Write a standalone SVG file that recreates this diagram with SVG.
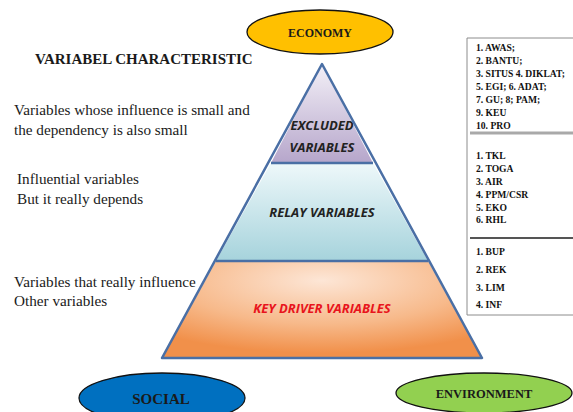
<svg xmlns="http://www.w3.org/2000/svg" width="573" height="412" viewBox="0 0 573 412">
  <style>
    .serif { font-family: "Liberation Serif", "Times New Roman", serif; fill: #1a1a1a; }
    .note { font-size: 15.2px; }
    .list { font-size: 9.6px; font-weight: bold; fill: #111; }
    .tier { font-family: "Open Sans", "Liberation Sans", sans-serif; font-size: 13px; font-weight: bold; font-style: italic; text-anchor: middle; fill: #222; }
    .oval { stroke: #111; stroke-width: 1.3; }
    .ovaltext { font-family: "Liberation Serif", serif; font-weight: bold; text-anchor: middle; fill: #1a1a1a; }
    .tierline { stroke: #4a6fa5; stroke-width: 2.5; fill: none; stroke-linejoin: round; }
  </style>
  <defs>
    <linearGradient id="gTop" x1="0" y1="0" x2="0" y2="1">
      <stop offset="0" stop-color="#f3f0f7"/>
      <stop offset="1" stop-color="#b6a6cb"/>
    </linearGradient>
    <linearGradient id="gMid" x1="0" y1="0" x2="0" y2="1">
      <stop offset="0" stop-color="#eef8fa"/>
      <stop offset="1" stop-color="#a6d3dc"/>
    </linearGradient>
    <radialGradient id="gBot" cx="0.5" cy="0.2" r="0.75">
      <stop offset="0" stop-color="#fde6d6"/>
      <stop offset="0.6" stop-color="#f7b98a"/>
      <stop offset="1" stop-color="#f1904a"/>
    </radialGradient>
  </defs>

  <rect width="573" height="412" fill="#ffffff"/>

  <!-- title -->
  <text class="serif" x="35" y="64" font-size="15" font-weight="bold">VARIABEL CHARACTERISTIC</text>

  <!-- descriptions on the left -->
  <g id="notes" class="serif note">
    <text x="14" y="115">Variables whose influence is small and</text>
    <text x="14" y="135">the dependency is also small</text>
    <text x="17" y="184">Influential variables</text>
    <text x="17" y="204">But it really depends</text>
    <text x="14" y="287">Variables that really influence</text>
    <text x="14" y="306">Other variables</text>
  </g>

  <!-- pyramid tiers -->
  <g id="tier-excluded">
    <polygon points="322,64 373,163 271,163" fill="url(#gTop)"/>
    <text class="tier" x="322" y="130">EXCLUDED</text>
    <text class="tier" x="322" y="152">VARIABLES</text>
  </g>
  <g id="tier-relay">
    <polygon points="271,163 373,163 428,261 216,261" fill="url(#gMid)"/>
    <text class="tier" x="322" y="217">RELAY VARIABLES</text>
  </g>
  <g id="tier-driver">
    <polygon points="216,261 428,261 482,358 162,358" fill="url(#gBot)"/>
    <text class="tier" x="322" y="313" style="fill:#e8141c">KEY DRIVER VARIABLES</text>
  </g>
  <g id="pyramid-outline">
    <polygon class="tierline" points="322,64 482,358 162,358"/>
    <line class="tierline" x1="271" y1="163" x2="373" y2="163"/>
    <line class="tierline" x1="216" y1="261" x2="428" y2="261"/>
  </g>

  <!-- variable list box -->
  <g id="variable-list">
    <polyline points="573,38 467,38 467,315 573,315" fill="none" stroke="#8c8c8c" stroke-width="1"/>
    <line x1="470" y1="133" x2="573" y2="133" stroke="#a9a9a9" stroke-width="3"/>
    <line x1="470" y1="238" x2="573" y2="238" stroke="#555" stroke-width="2"/>
    <g class="serif list">
      <text x="476" y="51">1. AWAS;</text>
      <text x="476" y="64">2. BANTU;</text>
      <text x="476" y="77">3. SITUS 4. DIKLAT;</text>
      <text x="476" y="90">5. EGI; 6. ADAT;</text>
      <text x="476" y="103">7. GU; 8; PAM;</text>
      <text x="476" y="116">9. KEU</text>
      <text x="476" y="129">10. PRO</text>

      <text x="476" y="159">1. TKL</text>
      <text x="476" y="172">2. TOGA</text>
      <text x="476" y="185">3. AIR</text>
      <text x="476" y="198">4. PPM/CSR</text>
      <text x="476" y="211">5. EKO</text>
      <text x="476" y="223">6. RHL</text>

      <text x="476" y="255">1. BUP</text>
      <text x="476" y="273">2. REK</text>
      <text x="476" y="291">3. LIM</text>
      <text x="476" y="308">4. INF</text>
    </g>
  </g>

  <!-- pillar ovals -->
  <g id="economy">
    <ellipse class="oval" cx="320" cy="32" rx="73" ry="22" fill="#ffc000"/>
    <text class="ovaltext" x="320" y="37" font-size="12">ECONOMY</text>
  </g>
  <g id="social">
    <ellipse class="oval" cx="162" cy="398" rx="83" ry="25" fill="#0070c0"/>
    <text class="ovaltext" x="161" y="404" font-size="15">SOCIAL</text>
  </g>
  <g id="environment">
    <ellipse class="oval" cx="484" cy="393" rx="88" ry="20" fill="#92d050"/>
    <text class="ovaltext" x="484" y="398" font-size="12.5">ENVIRONMENT</text>
  </g>
</svg>
